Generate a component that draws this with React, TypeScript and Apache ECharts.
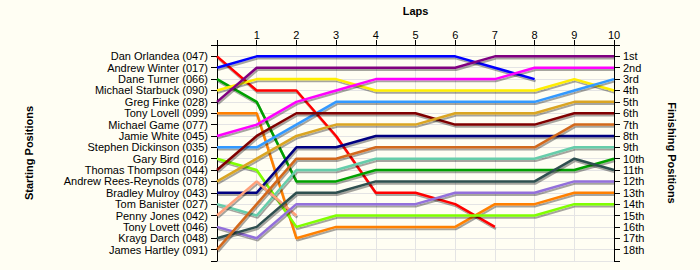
import React, { useEffect, useRef } from "react";
import * as echarts from "echarts";

const laps = [0, 1, 2, 3, 4, 5, 6, 7, 8, 9, 10];

const startNames = [
  "Dan Orlandea (047)",
  "Andrew Winter (017)",
  "Dane Turner (066)",
  "Michael Starbuck (090)",
  "Greg Finke (028)",
  "Tony Lovell (099)",
  "Michael Game (077)",
  "Jamie White (045)",
  "Stephen Dickinson (035)",
  "Gary Bird (016)",
  "Thomas Thompson (044)",
  "Andrew Rees-Reynolds (078)",
  "Bradley Mulroy (043)",
  "Tom Banister (027)",
  "Penny Jones (042)",
  "Tony Lovett (046)",
  "Krayg Darch (048)",
  "James Hartley (091)",
];

const finishLabels = [
  "1st", "2nd", "3rd", "4th", "5th", "6th", "7th", "8th", "9th",
  "10th", "11th", "12th", "13th", "14th", "15th", "16th", "17th", "18th",
];

// positions per lap (lap 0 .. lap 10); null = not running
const danOrlandea = [1, 4, 4, 8, 13, 13, 14, 16, null, null, null];
const andrewWinter = [2, 1, 1, 1, 1, 1, 1, 2, 3, null, null];
const daneTurner = [3, 5, 12, 12, 11, 11, 11, 11, 11, 11, 10];
const michaelStarbuck = [4, 3, 3, 3, 4, 4, 4, 4, 4, 3, 4];
const gregFinke = [5, 2, 2, 2, 2, 2, 2, 1, 1, 1, 1];
const tonyLovell = [6, 6, 17, 16, 16, 16, 16, 14, 14, 13, 13];
const jamieWhite = [8, 7, 5, 4, 3, 3, 3, 3, 2, 2, 2];
const stephenDickinson = [9, 9, 7, 5, 5, 5, 5, 5, 5, 4, 3];
const garyBird = [10, 11, 16, 15, 15, 15, 15, 15, 15, 14, 14];
const thomasThompson = [11, 8, 6, 6, 6, 6, 7, 7, 7, 6, 6];
const andrewReesReynolds = [12, 10, 8, 7, 7, 7, 6, 6, 6, 5, 5];
const bradleyMulroy = [13, 13, 9, 9, 8, 8, 8, 8, 8, 8, 8];
const tomBanister = [14, 15, 11, 11, 10, 10, 10, 10, 10, 9, 9];
const pennyJones = [15, 12, 15, null, null, null, null, null, null, null, null];
const tonyLovett = [16, 17, 14, 14, 14, 14, 13, 13, 13, 12, 12];
const kraygDarch = [17, 16, 13, 13, 12, 12, 12, 12, 12, 10, 11];
const jamesHartley = [18, 14, 10, 10, 9, 9, 9, 9, 9, 7, 7];

const drivers: { name: string; data: (number | null)[]; color: string }[] = [
  { name: startNames[0], data: danOrlandea, color: "#FF0000" },
  { name: startNames[1], data: andrewWinter, color: "#0000FF" },
  { name: startNames[2], data: daneTurner, color: "#00A000" },
  { name: startNames[3], data: michaelStarbuck, color: "#FFEE00" },
  { name: startNames[4], data: gregFinke, color: "#800080" },
  { name: startNames[5], data: tonyLovell, color: "#FF8000" },
  { name: startNames[7], data: jamieWhite, color: "#FF00FF" },
  { name: startNames[8], data: stephenDickinson, color: "#3399FF" },
  { name: startNames[9], data: garyBird, color: "#80FF00" },
  { name: startNames[10], data: thomasThompson, color: "#800000" },
  { name: startNames[11], data: andrewReesReynolds, color: "#DAA520" },
  { name: startNames[12], data: bradleyMulroy, color: "#000080" },
  { name: startNames[13], data: tomBanister, color: "#66CDAA" },
  { name: startNames[14], data: pennyJones, color: "#FFA07A" },
  { name: startNames[15], data: tonyLovett, color: "#9370DB" },
  { name: startNames[16], data: kraygDarch, color: "#2F4F4F" },
  { name: startNames[17], data: jamesHartley, color: "#D2691E" },
];

const FONT = "'Liberation Sans', Arial, sans-serif";

export default function App() {
  const ref = useRef<HTMLDivElement>(null);

  useEffect(() => {
    document.body.style.margin = "0";
    if (!ref.current) return;
    const chart = echarts.init(ref.current, undefined, { renderer: "svg" });

    const yCommon = (labels: string[]) => ({
      type: "value" as const,
      min: 0,
      max: 19,
      interval: 1,
      inverse: true,
      axisLine: { show: true, lineStyle: { color: "#000", width: 1 } },
      axisTick: { show: true, length: 6, lineStyle: { color: "#000" } },
      axisLabel: {
        margin: 9,
        fontSize: 11,
        fontFamily: FONT,
        color: "#000",
        formatter: (v: number) => (v >= 1 && v <= 18 ? labels[v - 1] : ""),
      },
      nameLocation: "middle" as const,
      nameTextStyle: { fontSize: 11, fontWeight: "bold" as const, fontFamily: FONT, color: "#000" },
    });

    chart.setOption({
      animation: false,
      backgroundColor: "#FFFEF3",
      grid: { left: 217, right: 86, top: 44, bottom: 9, containLabel: false },
      xAxis: {
        type: "value",
        position: "top",
        min: 0,
        max: 10,
        interval: 1,
        name: "Laps",
        nameLocation: "middle",
        nameGap: 29,
        nameTextStyle: { fontSize: 11, fontWeight: "bold", fontFamily: FONT, color: "#000" },
        axisLine: { show: true, lineStyle: { color: "#000", width: 1 } },
        axisTick: { show: true, length: 5, lineStyle: { color: "#000" } },
        axisLabel: {
          margin: 5,
          fontSize: 11,
          fontFamily: FONT,
          color: "#000",
          formatter: (v: number) => (v === 0 ? "" : String(laps[v])),
        },
        splitLine: { show: true, lineStyle: { color: "#E4E4E4", width: 1 } },
      },
      yAxis: [
        {
          ...yCommon(startNames),
          position: "left",
          name: "Starting Positions",
          nameRotate: 90,
          nameGap: 183,
          splitLine: { show: true, lineStyle: { color: "#E4E4E4", width: 1 } },
        },
        {
          ...yCommon(finishLabels),
          position: "right",
          name: "Finishing Positions",
          nameRotate: -90,
          nameGap: 52,
          splitLine: { show: false },
        },
      ],
      series: drivers.map((d) => ({
        type: "line",
        name: d.name,
        yAxisIndex: 0,
        symbol: "none",
        connectNulls: false,
        data: d.data.map((p, i) => [laps[i], p]),
        lineStyle: {
          color: d.color,
          width: 2.5,
          shadowColor: "rgba(0,0,0,0.35)",
          shadowOffsetX: 1,
          shadowOffsetY: 2,
          shadowBlur: 1,
        },
        itemStyle: { color: d.color },
      })),
    });

    return () => chart.dispose();
  }, []);

  return <div ref={ref} style={{ width: 700, height: 270 }} />;
}
